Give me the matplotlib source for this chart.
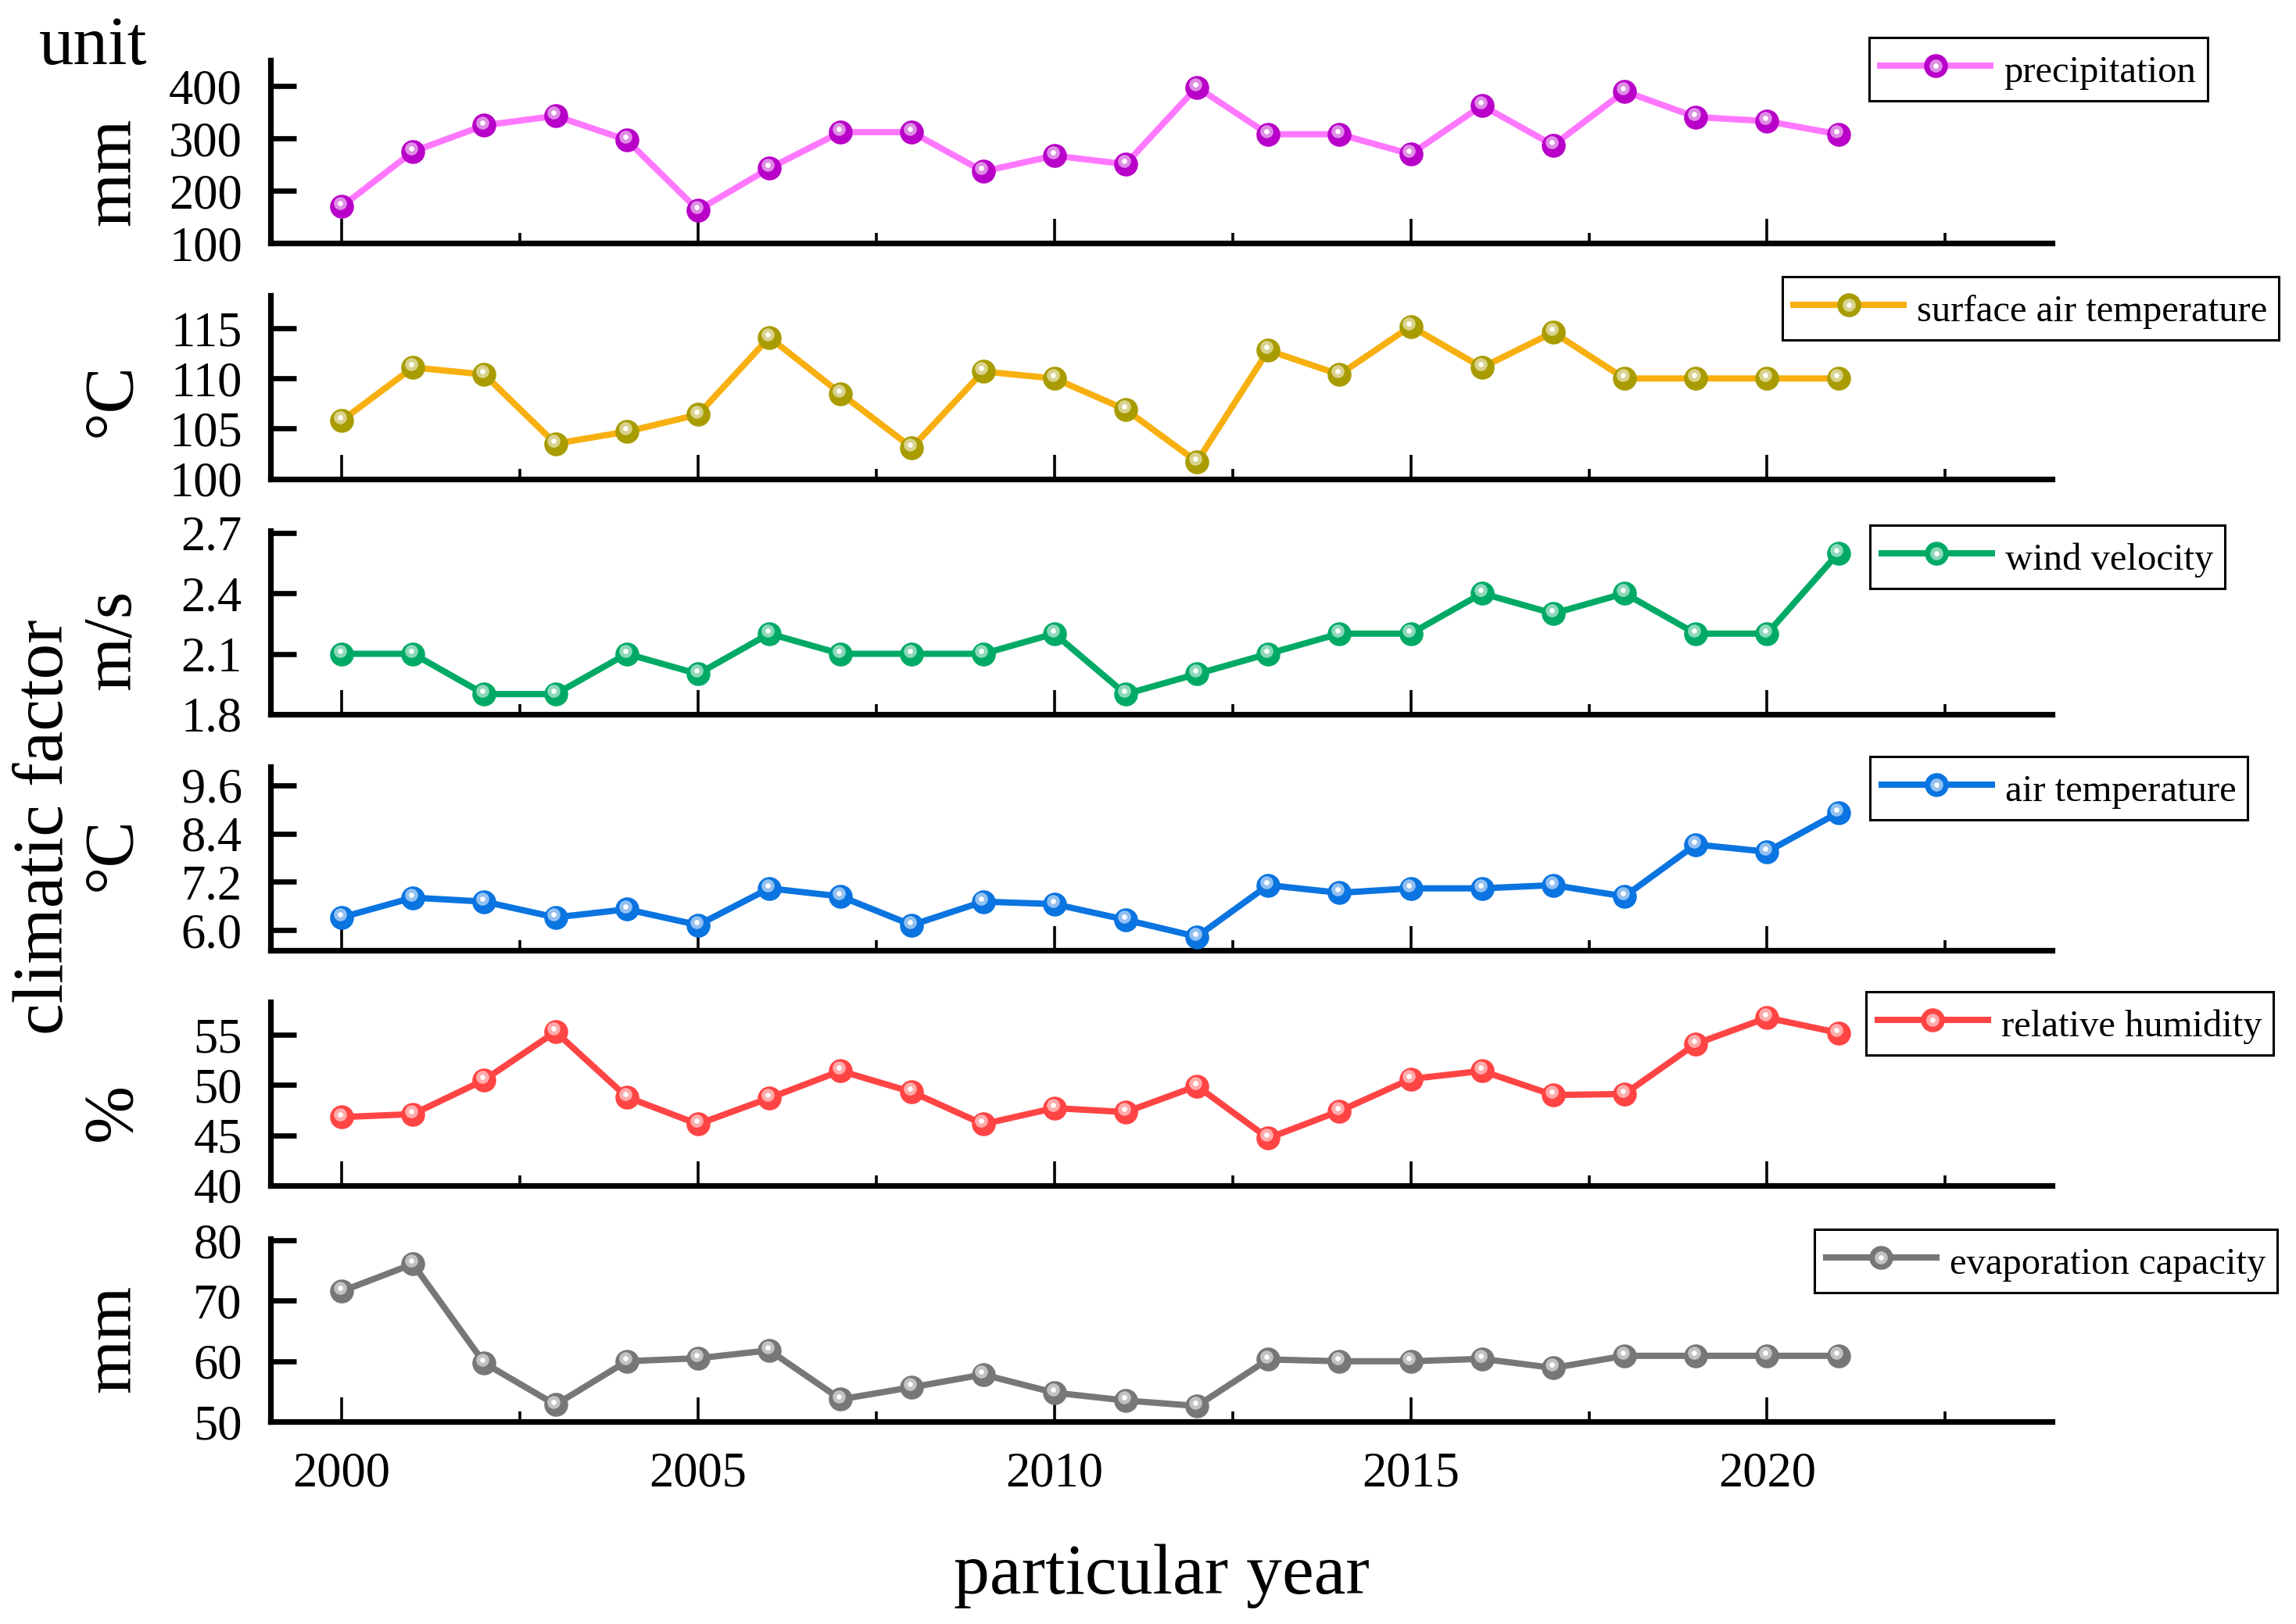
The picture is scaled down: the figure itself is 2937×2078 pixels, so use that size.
import numpy as np
import matplotlib.pyplot as plt
from matplotlib.ticker import FixedLocator, FormatStrFormatter
from matplotlib.transforms import offset_copy
from matplotlib.legend_handler import HandlerTuple
from matplotlib.colors import to_rgb

plt.rcParams['font.family'] = ['Liberation Serif', 'DejaVu Serif']

years = list(range(2000, 2022))

precipitation = [170, 275, 325, 343, 297, 163, 243, 312, 312, 237, 267, 251,
                 398, 308, 308, 270, 363, 287, 390, 341, 333, 308]
surface_air_temperature = [105.8, 111.1, 110.4, 103.5, 104.7, 106.4, 114.1, 108.5,
                           103.1, 110.7, 110.0, 106.9, 101.7, 112.8, 110.4, 115.2,
                           111.1, 114.6, 110.0, 110.0, 110.0, 110.0]
wind_velocity = [2.1, 2.1, 1.9, 1.9, 2.1, 2.0, 2.2, 2.1, 2.1, 2.1, 2.2, 1.9,
                 2.0, 2.1, 2.2, 2.2, 2.4, 2.3, 2.4, 2.2, 2.2, 2.6]
air_temperature = [6.32, 6.81, 6.71, 6.32, 6.52, 6.13, 7.04, 6.84, 6.13, 6.71, 6.65,
                   6.26, 5.84, 7.12, 6.93, 7.04, 7.04, 7.12, 6.84, 8.13, 7.95, 8.92]
relative_humidity = [46.8, 47.1, 50.5, 55.3, 48.8, 46.1, 48.7, 51.4, 49.3, 46.1, 47.7,
                     47.3, 49.9, 44.7, 47.4, 50.6, 51.4, 49.0, 49.1, 54.1, 56.7, 55.2]
evaporation_capacity = [71.6, 76.1, 59.7, 52.8, 60.0, 60.5, 61.8, 53.7, 55.7, 57.8, 54.8,
                        53.5, 52.6, 60.3, 60.0, 60.0, 60.4, 58.9, 60.9, 60.9, 60.9, 60.9]

labels = ['precipitation', 'surface air temperature', 'wind velocity',
          'air temperature', 'relative humidity', 'evaporation capacity']
units = ['mm', '°C', 'm/s', '°C', '%', 'mm']
series = [precipitation, surface_air_temperature, wind_velocity,
          air_temperature, relative_humidity, evaporation_capacity]
yticks = [[100, 200, 300, 400], [100, 105, 110, 115], [1.8, 2.1, 2.4, 2.7],
          [6.0, 7.2, 8.4, 9.6], [40, 45, 50, 55], [50, 60, 70, 80]]
ylims = [(100, 450), (100, 118.3), (1.8, 2.71), (5.5, 10.07), (40, 58.25), (50, 80.3)]
yfmt = ['%d', '%d', '%.1f', '%.1f', '%d', '%d']

line_colors = ['#FF78FF', '#F8B010', '#00AA66', '#0A74E0', '#FF4444', '#777777']
marker_colors = ['#B800C8', '#A89C00', '#00AA66', '#0A74E0', '#FF4444', '#777777']

# layout (figure fractions)
tops = [0.9631, 0.8182, 0.6731, 0.5281, 0.3829, 0.2373]
bottoms = [0.8503, 0.7052, 0.5602, 0.4148, 0.2701, 0.1246]
ylabel_y = [0.39, 0.43, 0.405, 0.525, 0.40, 0.455]
legend_anchor = [(0.9615, 0.9769), (0.9925, 0.8296), (0.969, 0.6766),
                 (0.9789, 0.5342), (0.9901, 0.3893), (0.9918, 0.2430)]

fig = plt.figure(figsize=(14.685, 10.39), dpi=200)
left, right = 0.1178, 0.8938

for i in range(6):
    ax = fig.add_axes([left, bottoms[i], right - left, tops[i] - bottoms[i]])
    lc, mc = line_colors[i], marker_colors[i]
    light = tuple(0.45 * np.array(to_rgb(mc)) + 0.55)
    l0, = ax.plot(years, series[i], color=lc, lw=2.9, marker='o', ms=11,
                  mfc=mc, mec=mc, mew=0, zorder=3)
    off = offset_copy(ax.transData, fig=fig, x=-0.8, y=1.4, units='points')
    l1, = ax.plot(years, series[i], ls='none', marker='o', ms=6, mfc=light,
                  mew=0, transform=off, zorder=4)
    l2, = ax.plot(years, series[i], ls='none', marker='o', ms=2.4, mfc='white',
                  mew=0, transform=off, zorder=5)

    ax.set_xlim(1999, 2024)
    ax.set_ylim(*ylims[i])
    ax.xaxis.set_major_locator(FixedLocator([2000, 2005, 2010, 2015, 2020]))
    ax.xaxis.set_minor_locator(FixedLocator([2002.5, 2007.5, 2012.5, 2017.5, 2022.5]))
    ax.yaxis.set_major_locator(FixedLocator(yticks[i]))
    ax.yaxis.set_major_formatter(FormatStrFormatter(yfmt[i]))

    for s in ['top', 'right']:
        ax.spines[s].set_visible(False)
    for s in ['left', 'bottom']:
        ax.spines[s].set_linewidth(2.6)

    ax.tick_params(axis='y', which='major', direction='in', length=12, width=2.4,
                   labelsize=22.5, pad=13)
    ax.tick_params(axis='x', which='major', direction='in', length=11, width=1.3,
                   labelsize=22.5, pad=14)
    ax.tick_params(axis='x', which='minor', direction='in', length=4.8, width=1.3)
    if i < 5:
        ax.tick_params(axis='x', labelbottom=False)

    ax.set_ylabel(units[i], fontsize=32)
    ax.yaxis.set_label_coords(-0.071, ylabel_y[i])

    ax.legend(handles=[(l0, l1, l2)], labels=[labels[i]],
              handler_map={tuple: HandlerTuple(ndivide=1)},
              loc='upper right', bbox_to_anchor=legend_anchor[i],
              bbox_transform=fig.transFigure, borderaxespad=0,
              fontsize=17.5, frameon=True, fancybox=False, framealpha=1,
              edgecolor='black', handlelength=2.9, handletextpad=0.35,
              handleheight=1.25, borderpad=0.3)
    ax.get_legend().get_frame().set_linewidth(1.1)

fig.text(0.017, 0.9605, 'unit', fontsize=32, ha='left', va='baseline')
fig.text(0.0272, 0.491, 'climatic factor', fontsize=33,
         rotation=90, rotation_mode='anchor', ha='center', va='baseline')
fig.text(0.506, 0.019, 'particular year', fontsize=33, ha='center', va='baseline')

fig.savefig('out.png', dpi=200)
